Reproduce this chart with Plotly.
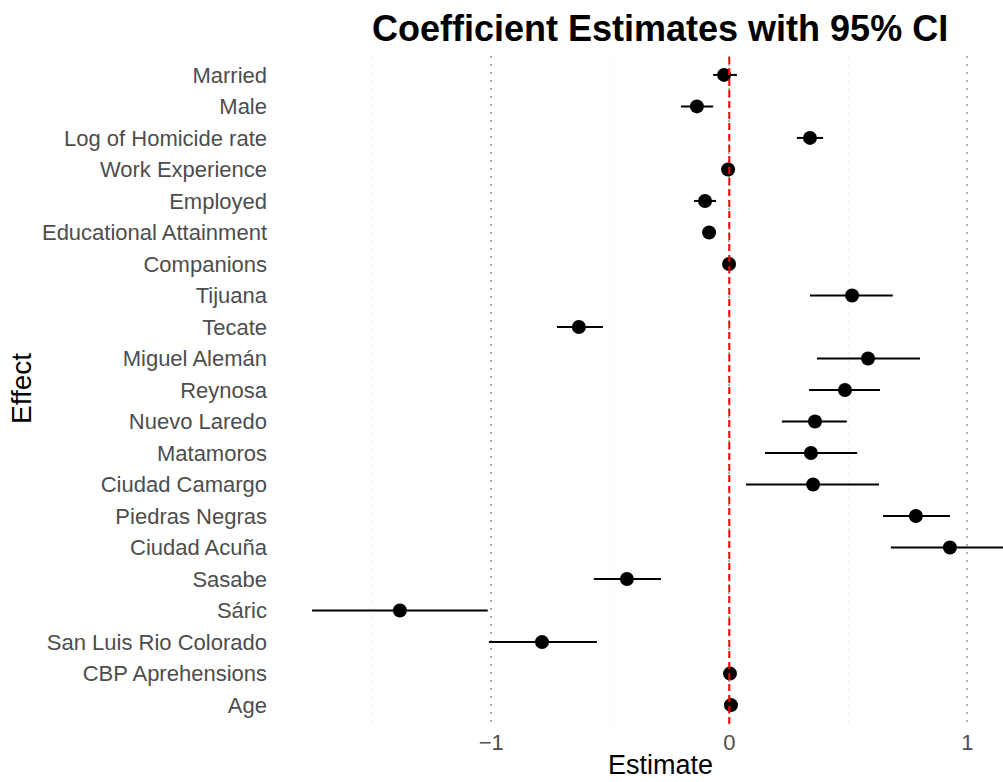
import plotly.graph_objects as go

effects = ["Married", "Male", "Log of Homicide rate", "Work Experience", "Employed",
           "Educational Attainment", "Companions", "Tijuana", "Tecate", "Miguel Alemán",
           "Reynosa", "Nuevo Laredo", "Matamoros", "Ciudad Camargo", "Piedras Negras",
           "Ciudad Acuña", "Sasabe", "Sáric", "San Luis Rio Colorado", "CBP Aprehensions", "Age"]
estimate = [-0.022, -0.136, 0.339, -0.005, -0.102, -0.085, -0.001, 0.516, -0.632, 0.583,
            0.486, 0.360, 0.343, 0.352, 0.784, 0.927, -0.430, -1.384, -0.787, 0.003, 0.007]
ci_low = [-0.068, -0.203, 0.284, -0.012, -0.148, -0.092, -0.006, 0.339, -0.724, 0.368,
          0.335, 0.221, 0.150, 0.070, 0.646, 0.679, -0.569, -1.753, -1.010, 0.000, 0.004]
ci_high = [0.032, -0.068, 0.394, 0.002, -0.056, -0.078, 0.004, 0.687, -0.531, 0.801,
           0.633, 0.494, 0.537, 0.629, 0.927, 1.175, -0.287, -1.015, -0.556, 0.006, 0.010]
x_ticks = [-1, 0, 1]
x_tick_labels = ["\u22121", "0", "1"]
x_minor = [-1.5, -0.5, 0.5]

FONT = "Liberation Sans, Arial, sans-serif"

fig = go.Figure()
fig.add_trace(go.Scatter(
    x=estimate, y=effects, mode="markers",
    marker=dict(color="black", size=14),
    error_x=dict(type="data", symmetric=False,
                 array=[h - e for h, e in zip(ci_high, estimate)],
                 arrayminus=[e - l for e, l in zip(estimate, ci_low)],
                 color="black", thickness=2, width=0),
    showlegend=False, cliponaxis=True,
))

fig.add_shape(type="line", x0=0, x1=0, xref="x", y0=0, y1=1, yref="paper",
              line=dict(color="#ff0000", width=2, dash="7px,4px"), layer="above")

fig.update_layout(
    width=1003, height=782,
    margin=dict(l=272, r=0, t=56, b=58),
    plot_bgcolor="white", paper_bgcolor="white",
    font=dict(family=FONT),
    xaxis=dict(
        range=[(272 - 729.3) / 238, (1003 - 729.3) / 238],
        tickmode="array", tickvals=x_ticks, ticktext=x_tick_labels,
        showgrid=True, gridcolor="#b0b0b0", griddash="2px,6px", gridwidth=1.5,
        minor=dict(tickmode="array", tickvals=x_minor, showgrid=True,
                   gridcolor="#ebebeb", gridwidth=1.2),
        zeroline=False, showline=False, ticks="",
        ticklabelstandoff=3,
        tickfont=dict(size=22, color="#4d4d4d", family=FONT),
    ),
    yaxis=dict(
        type="category", categoryorder="array", categoryarray=effects,
        range=[len(effects) - 1 + 0.6, -0.6],
        showgrid=False, zeroline=False, showline=False, ticks="",
        ticklabelstandoff=4,
        tickfont=dict(size=22, color="#4d4d4d", family=FONT),
    ),
    annotations=[
        dict(text="<b>Coefficient Estimates with 95% CI</b>", x=660, y=782 - 28,
             showarrow=False, font=dict(size=36, color="black", family=FONT)),
        dict(text="Estimate", x=660, y=782 - 765, showarrow=False,
             font=dict(size=27, color="black", family=FONT)),
        dict(text="Effect", x=21, y=782 - 389, showarrow=False, textangle=-90,
             font=dict(size=28, color="black", family=FONT)),
    ],
)
# convert pixel positions of annotations to paper coordinates
pw = 1003 - 272
ph = 782 - 56 - 58
for a in fig.layout.annotations:
    a.xref = "paper"
    a.yref = "paper"
    a.x = (a.x - 272) / pw
    a.y = (a.y - 58) / ph
    a.xanchor = "center"
    a.yanchor = "middle"

fig.write_html("out.html")
